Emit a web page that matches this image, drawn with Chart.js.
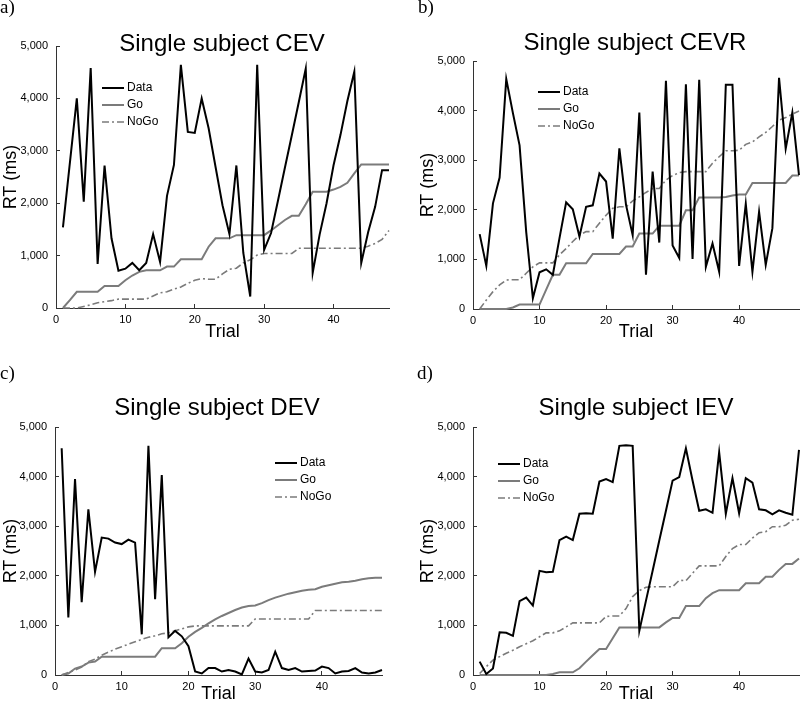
<!DOCTYPE html>
<html>
<head>
<meta charset="utf-8">
<script src="https://cdn.jsdelivr.net/npm/chart.js@4.4.1/dist/chart.umd.min.js"></script>
<style>
  body { margin: 0; background: #fff; overflow: hidden; }
  .page { position: relative; width: 800px; height: 705px; overflow: hidden; }
  .page canvas { position: absolute; }
  .tag { position: absolute; font-family: 'Liberation Serif', 'DejaVu Serif', serif; font-size: 19px; line-height: 19px; }
</style>
</head>
<body>
<div class="page">
  <canvas id="chartA" width="400" height="345" style="left:0;top:0"></canvas>
  <canvas id="chartB" width="400" height="345" style="left:400px;top:0"></canvas>
  <canvas id="chartC" width="400" height="362" style="left:0;top:345px"></canvas>
  <canvas id="chartD" width="400" height="362" style="left:400px;top:345px"></canvas>
  <div class="tag" style="left:0;top:-3px">a)</div>
  <div class="tag" style="left:418px;top:-3px">b)</div>
  <div class="tag" style="left:0;top:363px">c)</div>
  <div class="tag" style="left:417px;top:363px">d)</div>
</div>
<script>
// RT (ms) per trial
const dataA = [1540, 2770, 4000, 2030, 4580, 840, 2720, 1330, 710, 750, 860, 720, 860, 1410, 880, 2140, 2730, 4640, 3360, 3340, 4000, 3430, 2690, 1960, 1410, 2720, 1050, 220, 4640, 1110, 1430, 2050, 2680, 3300, 3930, 4570, 670, 1400, 2000, 2720, 3300, 3950, 4510, 860, 1450, 1930, 2630, 2630];
const goA = [0, 150, 310, 310, 310, 310, 420, 420, 420, 530, 620, 690, 720, 720, 720, 790, 790, 930, 930, 930, 930, 1170, 1330, 1330, 1330, 1390, 1390, 1390, 1390, 1390, 1480, 1580, 1680, 1760, 1760, 1980, 2220, 2220, 2220, 2260, 2310, 2390, 2570, 2740, 2740, 2740, 2740, 2740];
const nogoA = [0, 0, 0, 30, 60, 100, 120, 140, 170, 170, 170, 170, 170, 230, 290, 310, 360, 400, 470, 530, 560, 550, 550, 650, 740, 760, 860, 920, 1010, 1040, 1040, 1040, 1040, 1040, 1140, 1140, 1140, 1140, 1140, 1140, 1140, 1140, 1140, 1140, 1180, 1230, 1310, 1480];

const dataB = [1510, 870, 2130, 2650, 4640, 3950, 3300, 1550, 215, 740, 800, 690, 1430, 2150, 2010, 1460, 2060, 2090, 2730, 2570, 1420, 3240, 2100, 1490, 3960, 690, 2770, 1340, 4600, 1280, 1030, 4530, 1010, 4620, 850, 1320, 750, 4520, 4520, 870, 2120, 750, 1960, 890, 1630, 4660, 3230, 3960, 2700];
const goB = [0, 0, 0, 0, 0, 30, 90, 90, 90, 90, 390, 690, 690, 920, 920, 920, 920, 1110, 1110, 1110, 1110, 1110, 1260, 1260, 1520, 1520, 1520, 1680, 1680, 1680, 1680, 1990, 1990, 2250, 2250, 2250, 2250, 2260, 2290, 2310, 2310, 2540, 2540, 2540, 2540, 2540, 2540, 2690, 2690];
const nogoB = [0, 180, 350, 485, 585, 590, 590, 720, 850, 930, 930, 930, 1090, 1220, 1360, 1490, 1560, 1560, 1730, 1890, 2030, 2060, 2060, 2180, 2260, 2350, 2430, 2430, 2600, 2690, 2750, 2770, 2770, 2770, 2770, 2940, 3070, 3190, 3190, 3200, 3320, 3370, 3470, 3560, 3680, 3810, 3860, 3930, 3990];

const dataC = [4570, 1160, 3950, 1470, 3340, 2080, 2770, 2750, 2670, 2640, 2730, 2670, 820, 4620, 1530, 4030, 760, 890, 780, 580, 70, 30, 140, 140, 70, 100, 70, 10, 330, 70, 50, 100, 470, 140, 100, 140, 70, 80, 90, 170, 140, 30, 70, 80, 140, 50, 30, 50, 100];
const goC = [0, 30, 130, 170, 250, 270, 370, 370, 370, 370, 370, 370, 370, 370, 370, 540, 540, 540, 640, 770, 870, 950, 1040, 1120, 1190, 1250, 1310, 1360, 1390, 1400, 1450, 1510, 1560, 1600, 1640, 1670, 1700, 1720, 1730, 1780, 1810, 1840, 1870, 1880, 1900, 1930, 1950, 1960, 1960];
const nogoC = [0, 50, 100, 160, 270, 320, 400, 460, 520, 570, 620, 670, 720, 760, 790, 830, 850, 890, 930, 970, 990, 990, 990, 990, 990, 990, 990, 990, 990, 1130, 1130, 1130, 1130, 1130, 1130, 1130, 1130, 1130, 1300, 1300, 1300, 1300, 1300, 1300, 1300, 1300, 1300, 1300, 1300];

const dataD = [270, 20, 130, 860, 850, 790, 1490, 1560, 1400, 2100, 2070, 2080, 2720, 2790, 2720, 3250, 3260, 3250, 3900, 3950, 3890, 4620, 4630, 4620, 890, 1500, 2100, 2710, 3310, 3920, 3990, 4570, 3920, 3310, 3340, 3270, 4490, 3250, 3970, 3260, 3970, 3880, 3340, 3320, 3240, 3320, 3270, 3230, 4540];
const goD = [0, 0, 0, 0, 0, 0, 0, 0, 0, 0, 0, 20, 55, 55, 55, 135, 270, 400, 525, 525, 740, 960, 960, 960, 960, 960, 960, 960, 1060, 1150, 1150, 1390, 1390, 1390, 1550, 1650, 1710, 1710, 1710, 1710, 1850, 1850, 1850, 1980, 1980, 2120, 2240, 2240, 2350];
const nogoD = [30, 170, 300, 370, 440, 500, 570, 630, 690, 770, 850, 850, 890, 970, 1050, 1050, 1050, 1050, 1050, 1180, 1190, 1190, 1340, 1580, 1700, 1770, 1780, 1780, 1780, 1780, 1910, 1900, 2050, 2200, 2200, 2200, 2200, 2390, 2550, 2630, 2630, 2760, 2870, 2890, 2990, 2990, 3020, 3120, 3140];

const seriesNames = ['Data', 'Go', 'NoGo'];
const yTicks = [0, 1000, 2000, 3000, 4000, 5000];
const xTicks = [0, 10, 20, 30, 40];

const SANS = "'Liberation Sans', Arial, sans-serif";
const TICK_FONT = { family: "'Liberation Sans Narrow', 'Liberation Sans', Arial, sans-serif", size: 11 };

const toPoints = arr => arr.map((v, i) => ({ x: i + 1, y: v }));

// title + legend drawn inside the plot, MATLAB style
const panelDecor = {
    id: 'panelDecor',
    afterDraw(chart, args, opts) {
        const c = chart.ctx;
        c.save();
        c.fillStyle = '#000';
        c.font = '24px ' + SANS;
        c.textAlign = 'center';
        c.textBaseline = 'alphabetic';
        c.fillText(opts.title, opts.titleX, opts.titleY);

        c.font = '12px ' + SANS;
        c.textAlign = 'left';
        c.textBaseline = 'middle';
        chart.data.datasets.forEach((ds, i) => {
            const y = opts.legendY + i * 17;
            c.strokeStyle = ds.borderColor;
            c.lineWidth = ds.borderWidth;
            c.setLineDash(ds.borderDash || []);
            c.beginPath();
            c.moveTo(opts.legendX, y);
            c.lineTo(opts.legendX + 22, y);
            c.stroke();
            c.setLineDash([]);
            c.fillText(ds.label, opts.legendX + 25, y);
        });
        c.restore();
    }
};

function makePanel(id, data, go, nogo, p) {
    new Chart(document.getElementById(id), {
        type: 'line',
        data: {
            datasets: [{
                label: seriesNames[0],
                data: toPoints(data),
                borderColor: '#000',
                borderWidth: 2,
            }, {
                label: seriesNames[1],
                data: toPoints(go),
                borderColor: '#7b7b7b',
                borderWidth: 2,
            }, {
                label: seriesNames[2],
                data: toPoints(nogo),
                borderColor: '#7b7b7b',
                borderWidth: 1.6,
                borderDash: [7, 3, 2, 3],
            }]
        },
        options: {
            responsive: false,
            animation: false,
            layout: { padding: p.padding },
            elements: {
                point: { radius: 0 },
                line: { tension: 0 }
            },
            datasets: { line: { clip: 4 } },
            scales: {
                x: {
                    type: 'linear',
                    min: 0,
                    max: p.xMax,
                    afterFit: s => { s.height = p.xHeight; },
                    afterBuildTicks: s => { s.ticks = xTicks.map(v => ({ value: v })); },
                    grid: { drawOnChartArea: false, tickLength: -4, color: '#333' },
                    border: { color: '#333', width: 1 },
                    ticks: { padding: 9, color: '#000', font: TICK_FONT, maxRotation: 0 },
                    title: { display: true, text: 'Trial', color: '#000', font: { family: SANS, size: 18 }, padding: { top: 0, bottom: 2 } }
                },
                y: {
                    min: 0,
                    max: 5000,
                    afterFit: s => { s.width = p.yWidth; },
                    afterBuildTicks: s => { s.ticks = yTicks.map(v => ({ value: v })); },
                    grid: { drawOnChartArea: false, tickLength: -4, color: '#333' },
                    border: { color: '#333', width: 1 },
                    ticks: {
                        padding: 12,
                        color: '#000',
                        font: TICK_FONT,
                        callback: v => v.toLocaleString('en-US')
                    },
                    title: { display: true, text: 'RT (ms)', color: '#000', font: { family: SANS, size: 18 }, padding: { top: 0, bottom: 0 } }
                }
            },
            plugins: {
                legend: { display: false },
                tooltip: { enabled: false },
                panelDecor: p.decor
            }
        },
        plugins: [panelDecor]
    });
}

makePanel('chartA', dataA, goA, nogoA, {
    xMax: 48, yWidth: 56, xHeight: 37,
    padding: { left: 0, top: 46, right: 11, bottom: 0 },
    decor: { title: 'Single subject CEV', titleX: 222, titleY: 51, legendX: 102, legendY: 88 }
});

makePanel('chartB', dataB, goB, nogoB, {
    xMax: 49, yWidth: 56, xHeight: 36,
    padding: { left: 17, top: 61, right: 1, bottom: 0 },
    decor: { title: 'Single subject CEVR', titleX: 235, titleY: 50, legendX: 138, legendY: 92 }
});

makePanel('chartC', dataC, goC, nogoC, {
    xMax: 49, yWidth: 55, xHeight: 32,
    padding: { left: 0, top: 82, right: 18, bottom: 0 },
    decor: { title: 'Single subject DEV', titleX: 217, titleY: 70, legendX: 275, legendY: 118 }
});

makePanel('chartD', dataD, goD, nogoD, {
    xMax: 49, yWidth: 56, xHeight: 32,
    padding: { left: 17, top: 82, right: 1, bottom: 0 },
    decor: { title: 'Single subject IEV', titleX: 236, titleY: 70, legendX: 98, legendY: 119 }
});
</script>
</body>
</html>
